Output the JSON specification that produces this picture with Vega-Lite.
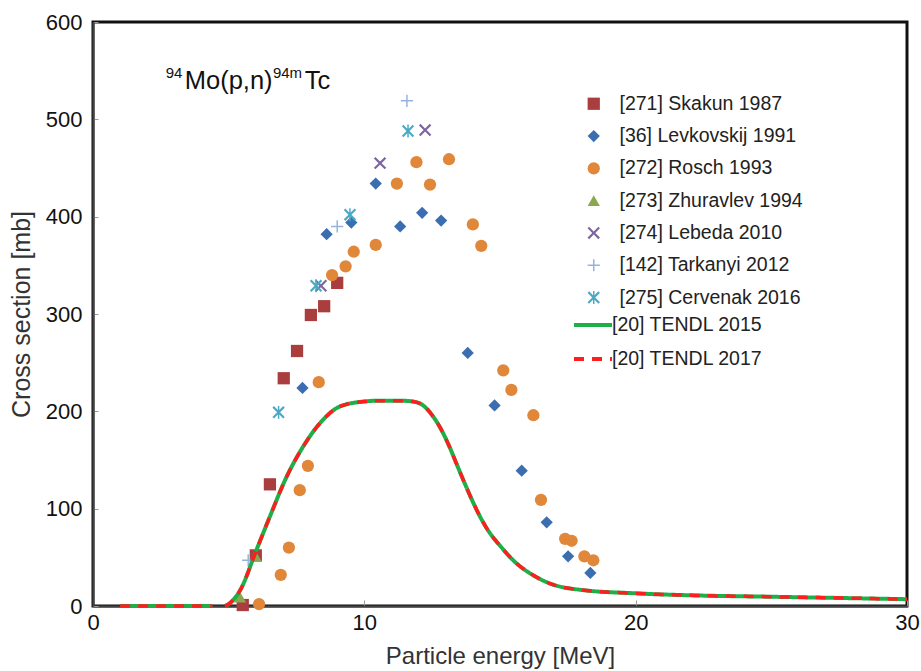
{
  "$schema": "https://vega.github.io/schema/vega-lite/v6.json",
  "width": 814,
  "height": 584,
  "autosize": {"type": "none"},
  "padding": {"left": 93, "top": 22, "right": 14, "bottom": 65},
  "background": "white",
  "config": {
    "font": "Liberation Sans",
    "view": {"stroke": "#111", "strokeWidth": 3},
    "axis": {"grid": false, "labelFont": "Liberation Sans", "titleFont": "Liberation Sans", "titleFontWeight": "normal", "labelColor": "#111", "titleColor": "#333", "domainColor": "#444", "domainWidth": 2, "tickColor": "#999", "labelFontSize": 22, "titleFontSize": 24},
    "legend": {"labelFont": "Liberation Sans", "labelFontSize": 19.5, "labelColor": "#222", "symbolOpacity": 1, "padding": 0, "labelLimit": 0}
  },
  "datasets": {
    "points": [
      {"series": "[271] Skakun 1987", "E": 5.52, "xs": 1},
      {"series": "[271] Skakun 1987", "E": 6.0, "xs": 52},
      {"series": "[271] Skakun 1987", "E": 6.52, "xs": 125},
      {"series": "[271] Skakun 1987", "E": 7.03, "xs": 234},
      {"series": "[271] Skakun 1987", "E": 7.52, "xs": 262},
      {"series": "[271] Skakun 1987", "E": 8.03, "xs": 299},
      {"series": "[271] Skakun 1987", "E": 8.52, "xs": 308},
      {"series": "[271] Skakun 1987", "E": 9.0, "xs": 332},
      {"series": "[36] Levkovskij 1991", "E": 7.72, "xs": 224},
      {"series": "[36] Levkovskij 1991", "E": 8.61, "xs": 382},
      {"series": "[36] Levkovskij 1991", "E": 9.52, "xs": 394},
      {"series": "[36] Levkovskij 1991", "E": 10.42, "xs": 434},
      {"series": "[36] Levkovskij 1991", "E": 11.32, "xs": 390},
      {"series": "[36] Levkovskij 1991", "E": 12.13, "xs": 404},
      {"series": "[36] Levkovskij 1991", "E": 12.83, "xs": 396},
      {"series": "[36] Levkovskij 1991", "E": 13.81, "xs": 260},
      {"series": "[36] Levkovskij 1991", "E": 14.8, "xs": 206},
      {"series": "[36] Levkovskij 1991", "E": 15.8, "xs": 139},
      {"series": "[36] Levkovskij 1991", "E": 16.72, "xs": 86},
      {"series": "[36] Levkovskij 1991", "E": 17.51, "xs": 51},
      {"series": "[36] Levkovskij 1991", "E": 18.33, "xs": 34},
      {"series": "[272] Rosch 1993", "E": 6.12, "xs": 2},
      {"series": "[272] Rosch 1993", "E": 6.92, "xs": 32},
      {"series": "[272] Rosch 1993", "E": 7.22, "xs": 60},
      {"series": "[272] Rosch 1993", "E": 7.62, "xs": 119},
      {"series": "[272] Rosch 1993", "E": 7.92, "xs": 144},
      {"series": "[272] Rosch 1993", "E": 8.32, "xs": 230},
      {"series": "[272] Rosch 1993", "E": 8.81, "xs": 340},
      {"series": "[272] Rosch 1993", "E": 9.31, "xs": 349},
      {"series": "[272] Rosch 1993", "E": 9.61, "xs": 364},
      {"series": "[272] Rosch 1993", "E": 10.42, "xs": 371},
      {"series": "[272] Rosch 1993", "E": 11.2, "xs": 434},
      {"series": "[272] Rosch 1993", "E": 11.92, "xs": 456},
      {"series": "[272] Rosch 1993", "E": 12.42, "xs": 433},
      {"series": "[272] Rosch 1993", "E": 13.12, "xs": 459},
      {"series": "[272] Rosch 1993", "E": 14.0, "xs": 392},
      {"series": "[272] Rosch 1993", "E": 14.31, "xs": 370},
      {"series": "[272] Rosch 1993", "E": 15.12, "xs": 242},
      {"series": "[272] Rosch 1993", "E": 15.42, "xs": 222},
      {"series": "[272] Rosch 1993", "E": 16.23, "xs": 196},
      {"series": "[272] Rosch 1993", "E": 16.51, "xs": 109},
      {"series": "[272] Rosch 1993", "E": 17.4, "xs": 69},
      {"series": "[272] Rosch 1993", "E": 17.64, "xs": 67},
      {"series": "[272] Rosch 1993", "E": 18.11, "xs": 51},
      {"series": "[272] Rosch 1993", "E": 18.44, "xs": 47},
      {"series": "[273] Zhuravlev 1994", "E": 5.42, "xs": 9},
      {"series": "[273] Zhuravlev 1994", "E": 6.0, "xs": 51},
      {"series": "[274] Lebeda 2010", "E": 8.4, "xs": 329},
      {"series": "[274] Lebeda 2010", "E": 10.58, "xs": 455},
      {"series": "[274] Lebeda 2010", "E": 12.24, "xs": 489},
      {"series": "[142] Tarkanyi 2012", "E": 5.72, "xs": 47},
      {"series": "[142] Tarkanyi 2012", "E": 9.0, "xs": 390},
      {"series": "[142] Tarkanyi 2012", "E": 11.57, "xs": 519},
      {"series": "[275] Cervenak 2016", "E": 6.84, "xs": 199},
      {"series": "[275] Cervenak 2016", "E": 8.22, "xs": 329},
      {"series": "[275] Cervenak 2016", "E": 9.47, "xs": 402},
      {"series": "[275] Cervenak 2016", "E": 11.61, "xs": 488}
    ],
    "tendl": [
      {"seg": 1, "E": 1.0, "xs": 0},
      {"seg": 1, "E": 4.4, "xs": 0},
      {"seg": 2, "E": 4.87, "xs": 0},
      {"seg": 2, "E": 5.0, "xs": 2},
      {"seg": 2, "E": 5.42, "xs": 16},
      {"seg": 2, "E": 6.03, "xs": 58},
      {"seg": 2, "E": 6.52, "xs": 92},
      {"seg": 2, "E": 7.14, "xs": 133},
      {"seg": 2, "E": 7.75, "xs": 164},
      {"seg": 2, "E": 8.37, "xs": 188},
      {"seg": 2, "E": 9.1, "xs": 205},
      {"seg": 2, "E": 9.96, "xs": 210},
      {"seg": 2, "E": 10.6, "xs": 211},
      {"seg": 2, "E": 11.3, "xs": 211},
      {"seg": 2, "E": 11.8, "xs": 210},
      {"seg": 2, "E": 12.17, "xs": 206},
      {"seg": 2, "E": 12.5, "xs": 196},
      {"seg": 2, "E": 12.8, "xs": 183},
      {"seg": 2, "E": 13.1, "xs": 166},
      {"seg": 2, "E": 13.4, "xs": 146},
      {"seg": 2, "E": 13.7, "xs": 126},
      {"seg": 2, "E": 14.0, "xs": 107},
      {"seg": 2, "E": 14.3, "xs": 90},
      {"seg": 2, "E": 14.6, "xs": 76},
      {"seg": 2, "E": 15.0, "xs": 62},
      {"seg": 2, "E": 15.6, "xs": 44},
      {"seg": 2, "E": 16.2, "xs": 32},
      {"seg": 2, "E": 16.85, "xs": 23},
      {"seg": 2, "E": 18.0, "xs": 16.5},
      {"seg": 2, "E": 20.0, "xs": 13},
      {"seg": 2, "E": 22.0, "xs": 11},
      {"seg": 2, "E": 25.0, "xs": 9.5},
      {"seg": 2, "E": 28.0, "xs": 8},
      {"seg": 2, "E": 30.0, "xs": 7}
    ],
    "mainText": [
      {"label": "Mo(p,n)", "E": 3.38, "xs": 531},
      {"label": "Tc", "E": 7.8, "xs": 531}
    ],
    "supText": [
      {"label": "94", "E": 2.68, "xs": 542},
      {"label": "94m", "E": 6.63, "xs": 542}
    ]
  },
  "encoding": {
    "x": {"field": "E", "type": "quantitative", "scale": {"domain": [0, 30], "nice": false, "zero": false},
      "axis": {"title": "Particle energy [MeV]", "values": [0, 10, 20, 30], "tickSize": -6, "labelPadding": 12, "titlePadding": 11, "labelFlush": false}},
    "y": {"field": "xs", "type": "quantitative", "scale": {"domain": [0, 600], "nice": false},
      "axis": {"title": "Cross section [mb]", "titleFontSize": 25, "values": [0, 100, 200, 300, 400, 500, 600], "tickSize": -5, "labelPadding": 16, "titlePadding": 11}}
  },
  "layer": [
    {
      "data": {"name": "points"},
      "mark": {"type": "point", "filled": true, "opacity": 1, "size": 150},
      "encoding": {
        "color": {"field": "series", "type": "nominal",
          "scale": {"domain": ["[271] Skakun 1987", "[36] Levkovskij 1991", "[272] Rosch 1993", "[273] Zhuravlev 1994", "[274] Lebeda 2010", "[142] Tarkanyi 2012", "[275] Cervenak 2016"],
            "range": ["#aa3d3d", "#3b6db1", "#e0873a", "#8aa84f", "#7d66a0", "#94b3de", "#4aaac5"]},
          "legend": {"title": null, "orient": "none", "legendX": 491, "legendY": 72, "symbolSize": 150, "labelOffset": 16, "rowPadding": 11.3, "labelLimit": 0}},
        "shape": {"field": "series", "type": "nominal",
          "scale": {"domain": ["[271] Skakun 1987", "[36] Levkovskij 1991", "[272] Rosch 1993", "[273] Zhuravlev 1994", "[274] Lebeda 2010", "[142] Tarkanyi 2012", "[275] Cervenak 2016"],
            "range": ["square", "diamond", "circle", "triangle-up",
              "M0.76,-1.01L1.01,-0.76L0.25,0L1.01,0.76L0.76,1.01L0,0.25L-0.76,1.01L-1.01,0.76L-0.25,0L-1.01,-0.76L-0.76,-1.01L0,-0.25Z",
              "M-0.12,-1H0.12V-0.12H1V0.12H0.12V1H-0.12V0.12H-1V-0.12H-0.12Z",
              "M0.76,-1.01L1.01,-0.76L0.25,0L1.01,0.76L0.76,1.01L0,0.25L-0.76,1.01L-1.01,0.76L-0.25,0L-1.01,-0.76L-0.76,-1.01L0,-0.25ZM-0.12,-1.05H0.12V1.05H-0.12Z"]},
          "legend": {"title": null, "orient": "none", "legendX": 491, "legendY": 72, "symbolSize": 150, "labelOffset": 16, "rowPadding": 11.3, "labelLimit": 0}}
      }
    },
    {
      "data": {"name": "tendl"},
      "mark": {"type": "line", "strokeWidth": 4, "interpolate": "monotone"},
      "encoding": {
        "detail": {"field": "seg", "type": "nominal"},
        "stroke": {"datum": "[20] TENDL 2015", "type": "nominal",
          "scale": {"domain": ["[20] TENDL 2015", "[20] TENDL 2017"], "range": ["#1fae4a", "#ff1e1e"]},
          "legend": {"title": null, "orient": "none", "legendX": 479, "legendY": 282, "symbolType": "stroke", "symbolSize": 1444, "symbolStrokeWidth": 4, "labelOffset": -2, "rowPadding": 3, "labelLimit": 0}},
        "strokeDash": {"datum": "[20] TENDL 2015", "type": "nominal",
          "scale": {"domain": ["[20] TENDL 2015", "[20] TENDL 2017"], "range": [[1, 0], [10, 8]]},
          "legend": {"title": null, "orient": "none", "legendX": 479, "legendY": 282, "symbolType": "stroke", "symbolSize": 1444, "symbolStrokeWidth": 4, "labelOffset": -2, "rowPadding": 3, "labelLimit": 0}}
      }
    },
    {
      "data": {"name": "tendl"},
      "mark": {"type": "line", "strokeWidth": 3.5, "interpolate": "monotone"},
      "encoding": {
        "detail": {"field": "seg", "type": "nominal"},
        "stroke": {"datum": "[20] TENDL 2017", "type": "nominal"},
        "strokeDash": {"datum": "[20] TENDL 2017", "type": "nominal"}
      }
    },
    {
      "data": {"name": "mainText"},
      "mark": {"type": "text", "align": "left", "baseline": "alphabetic", "fontSize": 25.5, "color": "#111"},
      "encoding": {"text": {"field": "label"}}
    },
    {
      "data": {"name": "supText"},
      "mark": {"type": "text", "align": "left", "baseline": "alphabetic", "fontSize": 15, "color": "#111"},
      "encoding": {"text": {"field": "label"}}
    }
  ]
}
